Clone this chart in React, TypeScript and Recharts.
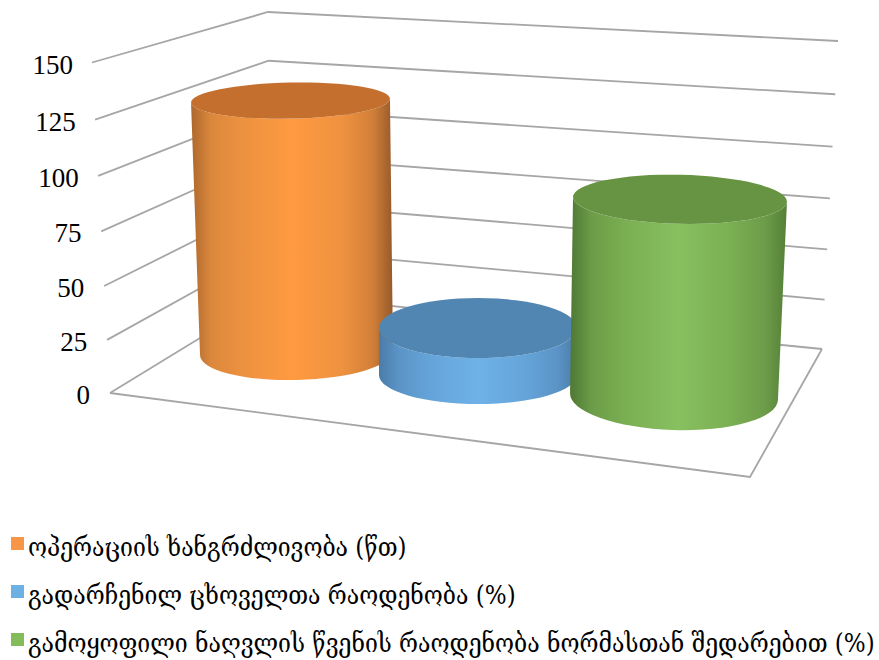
import React from 'react';
import { BarChart, Bar, XAxis, YAxis, Legend, Customized } from 'recharts';

const seriesKeys = ['operation', 'survivors', 'bile'];
const seriesNames = [
  'ოპერაციის ხანგრძლივობა (წთ)',
  'გადარჩენილ ცხოველთა რაოდენობა (%)',
  'გამოყოფილი ნაღვლის წვენის რაოდენობა ნორმასთან შედარებით (%)',
];
const seriesValues = [120, 21, 87];
const seriesColors = ['#F79646', '#6CB0E4', '#84BC5C'];
const yTicks = [0, 25, 50, 75, 100, 125, 150];

const chartData = [
  Object.fromEntries([['name', ''], ...seriesKeys.map((k, i) => [k, seriesValues[i]])]),
];

type Pt = [number, number];
const lerp = (a: Pt, b: Pt, t: number): Pt => [a[0] + (b[0] - a[0]) * t, a[1] + (b[1] - a[1]) * t];

// corners of the 3D box, floor level and top level
const floorLeft: Pt = [110, 393];
const floorBack: Pt = [272, 294];
const floorRight: Pt = [822, 349];
const floorFront: Pt = [750, 477];
const topLeft: Pt = [92, 62.5];
const topBack: Pt = [268, 12];
const topRight: Pt = [838, 41];

// perspective foreshortening along the vertical edges
const heightAt = (v: number) => {
  const t = v / 150;
  return t / (t + (1 - t) * 1.045);
};

const shadeStops = [0, 0.1, 0.25, 0.5, 0.75, 0.9, 1];

// per-series projection of each cylinder
const cylinders: Record<string, any> = {
  operation: {
    baseY: 353, depth: 0.956, topDx: 1.5, baseDx: 7.5, rxTop: 99.5, ryTop: 18, rxBase: 96.5, ryBase: 27,
    tiltTop: -1.1, tiltBase: -1.4, top: '#C46F2E',
    shades: ['#AD672D', '#DB883C', '#EC9140', '#FF9A40', '#EE9240', '#D17F38', '#96592A'],
  },
  survivors: {
    baseY: 375, depth: 1.017, topDx: -3, baseDx: -3, rxTop: 99, ryTop: 30, rxBase: 99, ryBase: 29,
    tiltTop: 0, tiltBase: 0, top: '#5286B2',
    shades: ['#4A7CA8', '#5B94C6', '#64A3D8', '#6FB2E8', '#64A3D8', '#5B94C6', '#4A7CA8'],
  },
  bile: {
    baseY: 396.5, depth: 1.03, topDx: 7, baseDx: 1, rxTop: 107, ryTop: 24.5, rxBase: 104, ryBase: 33.5,
    tiltTop: 1.3, tiltBase: 1.9, top: '#679442',
    shades: ['#4F7835', '#6C9C48', '#7AAE52', '#88C05F', '#7AAE52', '#6C9C48', '#557F38'],
  },
};

const polyline = (pts: Pt[]) => pts.map((p) => p.join(',')).join(' ');

const Walls = () => (
  <g fill="none" stroke="#A6A6A6" strokeWidth={1.8}>
    {yTicks.map((v) => {
      const t = heightAt(v);
      return (
        <polyline
          key={v}
          points={polyline([lerp(floorLeft, topLeft, t), lerp(floorBack, topBack, t), lerp(floorRight, topRight, t)])}
        />
      );
    })}
    <polyline points={polyline([floorLeft, floorFront, floorRight])} />
  </g>
);

const ellipsePoint = (cx: number, cy: number, rx: number, tilt: number, side: number): Pt => {
  const a = (tilt * Math.PI) / 180;
  return [cx + side * rx * Math.cos(a), cy + side * rx * Math.sin(a)];
};

// cylinder drawn from the bar rectangle the value axis gives us
const CylinderShape = (props: any) => {
  const { x, width, height, dataKey } = props;
  const c = cylinders[dataKey];
  const center = x + width / 2;
  const topY = c.baseY - height * c.depth;
  const tx = center + c.topDx;
  const bx = center + c.baseDx;
  const tl = ellipsePoint(tx, topY, c.rxTop, c.tiltTop, -1);
  const tr = ellipsePoint(tx, topY, c.rxTop, c.tiltTop, 1);
  const bl = ellipsePoint(bx, c.baseY, c.rxBase, c.tiltBase, -1);
  const br = ellipsePoint(bx, c.baseY, c.rxBase, c.tiltBase, 1);
  const id = `cyl-${dataKey}`;
  const body =
    `M${tl[0]},${tl[1]} L${bl[0]},${bl[1]} ` +
    `A${c.rxBase},${c.ryBase} ${c.tiltBase} 0 0 ${br[0]},${br[1]} ` +
    `L${tr[0]},${tr[1]} A${c.rxTop},${c.ryTop} ${c.tiltTop} 0 1 ${tl[0]},${tl[1]} Z`;
  return (
    <g>
      <defs>
        <linearGradient id={id} x1="0" y1="0" x2="1" y2="0">
          {shadeStops.map((o, i) => (
            <stop key={o} offset={o} stopColor={c.shades[i]} />
          ))}
        </linearGradient>
      </defs>
      <path d={body} fill={`url(#${id})`} />
      <ellipse
        cx={tx}
        cy={topY}
        rx={c.rxTop}
        ry={c.ryTop}
        fill={c.top}
        transform={`rotate(${c.tiltTop} ${tx} ${topY})`}
      />
    </g>
  );
};

// tick labels follow the slanted left edge of the box
const SlantedTick = ({ payload }: any) => {
  const right = 90 - (payload.value / 150) * 17;
  const [, y] = lerp(floorLeft, topLeft, heightAt(payload.value));
  return (
    <text x={right} y={y} dy={11} textAnchor="end" fontFamily="Liberation Serif" fontSize={27} fill="#000">
      {payload.value}
    </text>
  );
};

const legendRowTops = [0, 48, 96];

const LegendRows = ({ payload }: any) => (
  <div style={{ position: 'relative', width: 879, height: 140 }}>
    {(payload || []).map((entry: any, i: number) => (
      <div key={entry.value} style={{ position: 'absolute', left: 0, top: legendRowTops[i], height: 40, width: 879 }}>
        <span
          style={{
            position: 'absolute', left: 11, top: 17, width: 13, height: 13, background: entry.color,
          }}
        />
        <span
          style={{
            position: 'absolute', left: 28, top: 10, whiteSpace: 'nowrap', fontFamily: 'DejaVu Serif Condensed',
            fontSize: 25.6, lineHeight: '34px', color: '#000',
          }}
        >
          {entry.value}
        </span>
      </div>
    ))}
  </div>
);

export default function App() {
  return (
    <div style={{ position: 'absolute', left: 0, top: 0, width: 879, height: 660, background: '#fff' }}>
      <BarChart
        width={879}
        height={660}
        data={chartData}
        margin={{ top: 63, right: 37, bottom: 267, left: 0 }}
        barSize={192}
        barGap={0}
      >
        <Customized component={Walls} />
        <XAxis dataKey="name" hide />
        <YAxis
          width={120}
          domain={[0, 150]}
          ticks={yTicks}
          axisLine={false}
          tickLine={false}
          tick={<SlantedTick />}
          interval={0}
        />
        <Legend
          layout="vertical"
          align="center"
          verticalAlign="middle"
          itemSorter={null}
          wrapperStyle={{ left: 0, top: 520, width: 879 }}
          content={<LegendRows />}
        />
        {seriesKeys.map((k, i) => (
          <Bar
            key={k}
            dataKey={k}
            name={seriesNames[i]}
            fill={seriesColors[i]}
            shape={<CylinderShape dataKey={k} />}
            isAnimationActive={false}
          />
        ))}
      </BarChart>
    </div>
  );
}
